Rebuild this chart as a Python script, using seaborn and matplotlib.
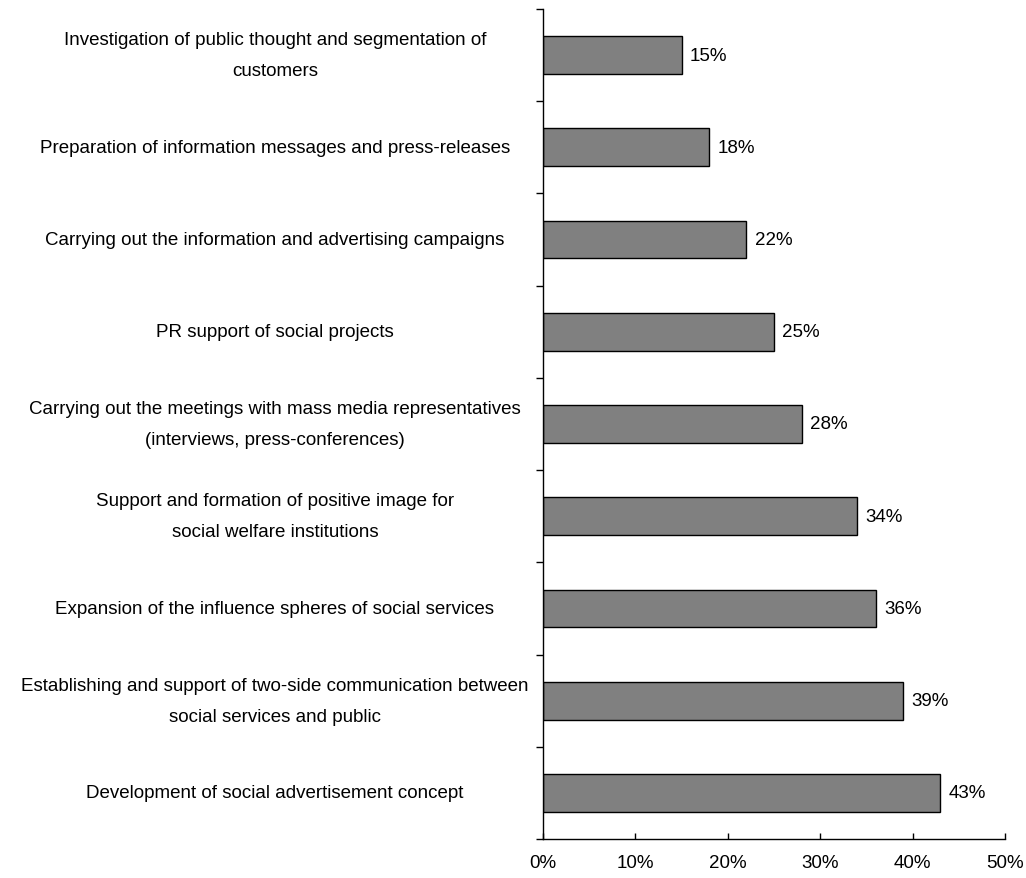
import matplotlib
matplotlib.use("Agg")
import matplotlib.pyplot as plt
from matplotlib.ticker import FixedLocator, PercentFormatter
import seaborn as sns
import pandas as pd

# Survey results: share of respondents naming each PR activity
activities = [
    "Investigation of public thought and segmentation of\ncustomers",
    "Preparation of information messages and press-releases",
    "Carrying out the information and advertising campaigns",
    "PR support of social projects",
    "Carrying out the meetings with mass media representatives\n(interviews, press-conferences)",
    "Support and formation of positive image for\nsocial welfare institutions",
    "Expansion of the influence spheres of social services",
    "Establishing and support of two-side communication between\nsocial services and public",
    "Development of social advertisement concept",
]
shares = [15, 18, 22, 25, 28, 34, 36, 39, 43]
x_ticks = [0, 10, 20, 30, 40, 50]

df = pd.DataFrame({"activity": activities, "share": shares})

sns.set_theme(style="white")
plt.rcParams["font.family"] = ["Liberation Sans", "DejaVu Sans"]
plt.rcParams["text.color"] = "black"
plt.rcParams["xtick.labelcolor"] = "black"
plt.rcParams["ytick.labelcolor"] = "black"
FS = 13.5

fig = plt.figure(figsize=(10.26, 8.79), dpi=100)
ax = fig.add_axes([543 / 1026, 39 / 879, 462 / 1026, 830 / 879])

sns.barplot(data=df, x="share", y="activity", orient="h", ax=ax,
            color="#808080", saturation=1, width=0.41,
            edgecolor="black", linewidth=1.0)

ax.set_xlim(0, 50)
ax.set_ylim(len(activities) - 0.5, -0.5)
ax.set_xlabel("")
ax.set_ylabel("")

# spines
sns.despine(ax=ax, top=True, right=True)
for side in ("left", "bottom"):
    ax.spines[side].set_color("black")
    ax.spines[side].set_linewidth(1.0)

# x axis: percent ticks pointing inward
ax.set_xticks(x_ticks)
ax.xaxis.set_major_formatter(PercentFormatter(decimals=0))
ax.tick_params(axis="x", which="major", direction="in", length=4, width=1,
               color="black", labelsize=FS, labelcolor="black", pad=11, bottom=True)

# y axis: category separators as outward minor ticks, labels centred in the left margin
ax.set_yticks(range(len(activities)), labels=activities, ha="center", va="center",
              multialignment="center", linespacing=2.1, color="black")
ax.yaxis.set_minor_locator(FixedLocator([i - 0.5 for i in range(len(activities) + 1)]))
ax.tick_params(axis="y", which="minor", direction="out", length=5, width=1,
               color="black", left=True)
ax.tick_params(axis="y", which="major", length=0, labelsize=FS, labelcolor="black", pad=193)

# value labels
for i, v in enumerate(shares):
    ax.text(v + 0.9, i, f"{v}%", va="center", ha="left", fontsize=FS, color="black")

fig.savefig("out.png", dpi=100, facecolor="white")
